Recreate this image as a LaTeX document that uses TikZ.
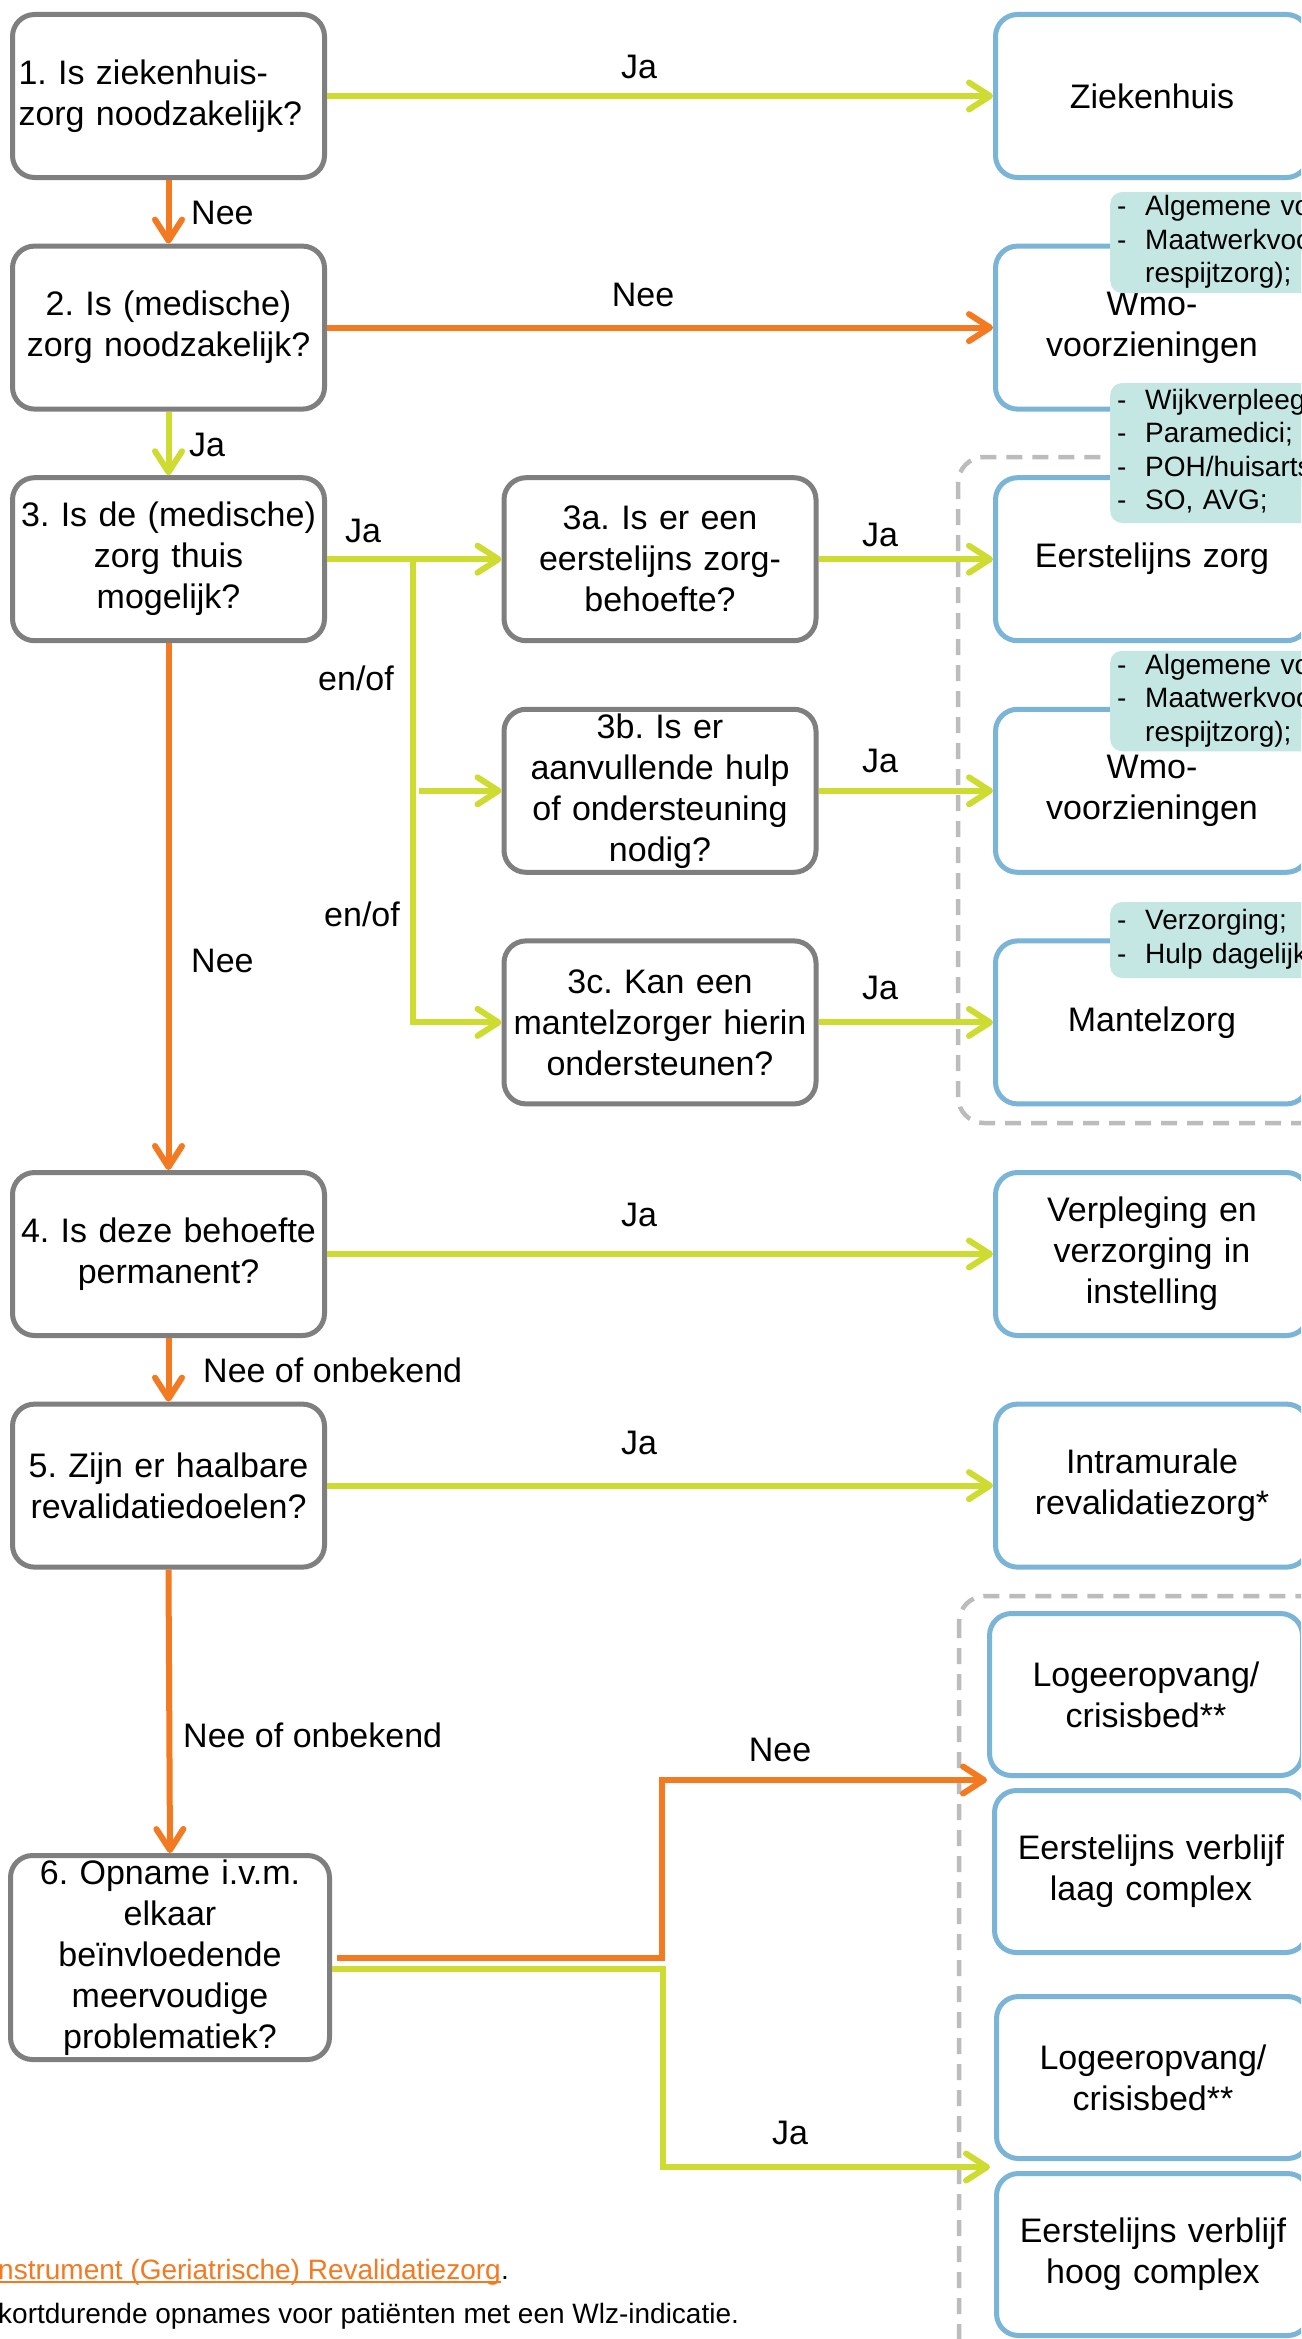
\documentclass[tikz,border=0pt]{standalone}
\usepackage{fontspec}
\setmainfont{Liberation Sans}
\usetikzlibrary{arrows.meta}
\definecolor{qgray}{RGB}{127,127,127}
\definecolor{ablue}{RGB}{122,180,214}
\definecolor{lgreen}{RGB}{206,220,50}
\definecolor{orng}{RGB}{243,122,32}
\definecolor{tealbg}{RGB}{196,231,228}
\definecolor{dgray}{RGB}{188,188,188}
\begin{document}
\frenchspacing
\begin{tikzpicture}[x=1pt,y=-1pt,
  every node/.style={font=\fontsize{34}{41}\selectfont},
  qbox/.style={draw=qgray, line width=5pt, rounded corners=22pt, fill=white, inner sep=0pt,
    align=center, text width=306pt, minimum width=312pt, minimum height=163pt},
  abox/.style={draw=ablue, line width=5pt, rounded corners=22pt, fill=white, inner sep=0pt,
    align=center, text width=300pt, minimum width=313pt, minimum height=163pt},
  callout/.style={fill=tealbg, rounded corners=12pt, inner xsep=7pt, inner ysep=0pt, anchor=west,
    text width=400pt, align=left, font=\fontsize{28}{33.5}\selectfont},
  grp/.style={draw=dgray, line width=4.5pt, dash pattern=on 16pt off 10pt, rounded corners=26pt},
  garr/.style={draw=lgreen, line width=6pt, -{Straight Barb[length=21pt,width=27pt,round]}},
  oarr/.style={draw=orng, line width=6pt, -{Straight Barb[length=21pt,width=27pt,round]}},
  lbl/.style={inner sep=0pt},
  fnote/.style={font=\fontsize{28}{33.5}\selectfont, inner sep=0pt, anchor=base west}
]
\path[use as bounding box] (0,0) rectangle (1301,2339);
\clip (0,0) rectangle (1301,2339);
\fill[white] (0,0) rectangle (1301,2339);

% dashed groups
\draw[grp] (958,457) rectangle (1420,1123);
\draw[grp] (959,1596) rectangle (1420,2420);

% question boxes
\node[qbox, text width=300pt, align=left] (q1) at (168.5,96) {1. Is ziekenhuis-\\zorg noodzakelijk?};
\node[qbox] (q2) at (168.5,327.6) {2. Is (medische)\\zorg noodzakelijk?};
\node[qbox] (q3) at (168.5,559.2) {3. Is de (medische)\\zorg thuis\\mogelijk?};
\node[qbox] (q3a) at (660,559.2) {3a. Is er een\\eerstelijns zorg-\\behoefte?};
\node[qbox] (q3b) at (660,790.8) {3b. Is er\\aanvullende hulp\\of ondersteuning\\nodig?};
\node[qbox] (q3c) at (660,1022.4) {3c. Kan een\\mantelzorger hierin\\ondersteunen?};
\node[qbox] (q4) at (168.5,1254) {4. Is deze behoefte\\permanent?};
\node[qbox] (q5) at (168.5,1485.6) {5. Zijn er haalbare\\revalidatiedoelen?};
\node[qbox, minimum width=319pt, minimum height=204pt] (q6) at (170,1957.5)
  {6. Opname i.v.m.\\elkaar\\beïnvloedende\\meervoudige\\problematiek?};

% answer boxes
\node[abox] (r1) at (1152,96) {Ziekenhuis};
\node[abox] (r2) at (1152,327.6) {Wmo-\\voorzieningen};
\node[abox] (r3) at (1152,559.2) {Eerstelijns zorg};
\node[abox] (r4) at (1152,790.8) {Wmo-\\voorzieningen};
\node[abox] (r5) at (1152,1022.4) {Mantelzorg};
\node[abox] (r6) at (1152,1254) {Verpleging en\\verzorging in\\instelling};
\node[abox] (r7) at (1152,1485.6) {Intramurale\\revalidatiezorg*};
\node[abox, minimum height=162pt] (g1) at (1146,1694.5) {Logeeropvang/\\crisisbed**};
\node[abox, minimum height=162pt] (g2) at (1151,1871.5) {Eerstelijns verblijf\\laag complex};
\node[abox, minimum height=162pt] (g3) at (1153,2077.5) {Logeeropvang/\\crisisbed**};
\node[abox, minimum height=162pt] (g4) at (1153,2254.5) {Eerstelijns verblijf\\hoog complex};

% connectors
\draw[garr] (q1.east) -- (r1.west);
\draw[oarr] (q1.south) -- (q2.north);
\draw[oarr] (q2.east) -- (r2.west);
\draw[garr] (q2.south) -- (q3.north);
\draw[garr] (q3.east) -- (q3a.west);
\coordinate (br) at (413,559.2);
\draw[garr] (br) |- (q3c.west);
\draw[garr] ([xshift=6pt]br |- q3b.west) -- (q3b.west);
\draw[garr] (q3a.east) -- (r3.west);
\draw[garr] (q3b.east) -- (r4.west);
\draw[garr] (q3c.east) -- (r5.west);
\draw[oarr] (q3.south) -- (q4.north);
\draw[garr] (q4.east) -- (r6.west);
\draw[oarr] (q4.south) -- (q5.north);
\draw[garr] (q5.east) -- (r7.west);
\draw[oarr] (q5.south) -- (q6.north);
\coordinate (o6) at (987,1780);
\coordinate (j6) at (990,2167);
\draw[oarr] ([xshift=5pt]q6.east) -- ++(325,0) |- (o6);
\draw[garr] ([yshift=-11pt]q6.east) -- ++(331,0) |- (j6);

% labels
\node[lbl] (l1) at (639,67) {Ja};
\node[lbl, anchor=west] (l2) at (191,213) {Nee};
\node[lbl] (l3) at (643,295) {Nee};
\node[lbl, anchor=west] (l4) at (189,445) {Ja};
\node[lbl] (l5) at (363,531) {Ja};
\node[lbl] (l6) at (356,678) {en/of};
\node[lbl] (l7) at (362,914) {en/of};
\node[lbl] (l8) at (880,535) {Ja};
\node[lbl] (l9) at (880,761) {Ja};
\node[lbl] (l10) at (880,988) {Ja};
\node[lbl, anchor=west] (l11) at (191,961) {Nee};
\node[lbl] (l12) at (639,1215) {Ja};
\node[lbl, anchor=west] (l13) at (203,1370) {Nee of onbekend};
\node[lbl] (l14) at (639,1443) {Ja};
\node[lbl, anchor=west] (l15) at (183,1735) {Nee of onbekend};
\node[lbl] (l16) at (780,1750) {Nee};
\node[lbl] (l17) at (790,2133) {Ja};

% callouts
\node[callout, minimum height=101pt] (c1) at (1110,242.5)
  {\begin{tabular}{@{}p{28pt}@{}l@{}}-&Algemene voorzieningen;\\-&Maatwerkvoorzieningen (o.a.\\&respijtzorg);\end{tabular}};
\node[callout, minimum height=140pt] (c2) at (1110,453)
  {\begin{tabular}{@{}p{28pt}@{}l@{}}-&Wijkverpleegkunde;\\-&Paramedici;\\-&POH/huisarts;\\-&SO, AVG;\end{tabular}};
\node[callout, minimum height=96pt] (c3) at (1110,701)
  {\begin{tabular}{@{}p{28pt}@{}l@{}}-&Algemene voorzieningen;\\-&Maatwerkvoorzieningen (o.a.\\&respijtzorg);\end{tabular}};
\node[callout, minimum height=76pt] (c4) at (1110,940)
  {\begin{tabular}{@{}p{28pt}@{}l@{}}-&Verzorging;\\-&Hulp dagelijkse levensverrichtingen;\end{tabular}};

% footnotes
\node[fnote, text=orng] (f1) at (-2,2279) {nstrument (Geriatrische) Revalidatiezorg};
\node[fnote] (f1b) at (f1.base east) {.};
\draw[orng, line width=2pt] ([yshift=-3pt]f1.base west) -- ([yshift=-3pt]f1.base east);
\node[fnote] (f2) at (-2,2323) {kortdurende opnames voor patiënten met een Wlz-indicatie.};
\end{tikzpicture}
\end{document}
